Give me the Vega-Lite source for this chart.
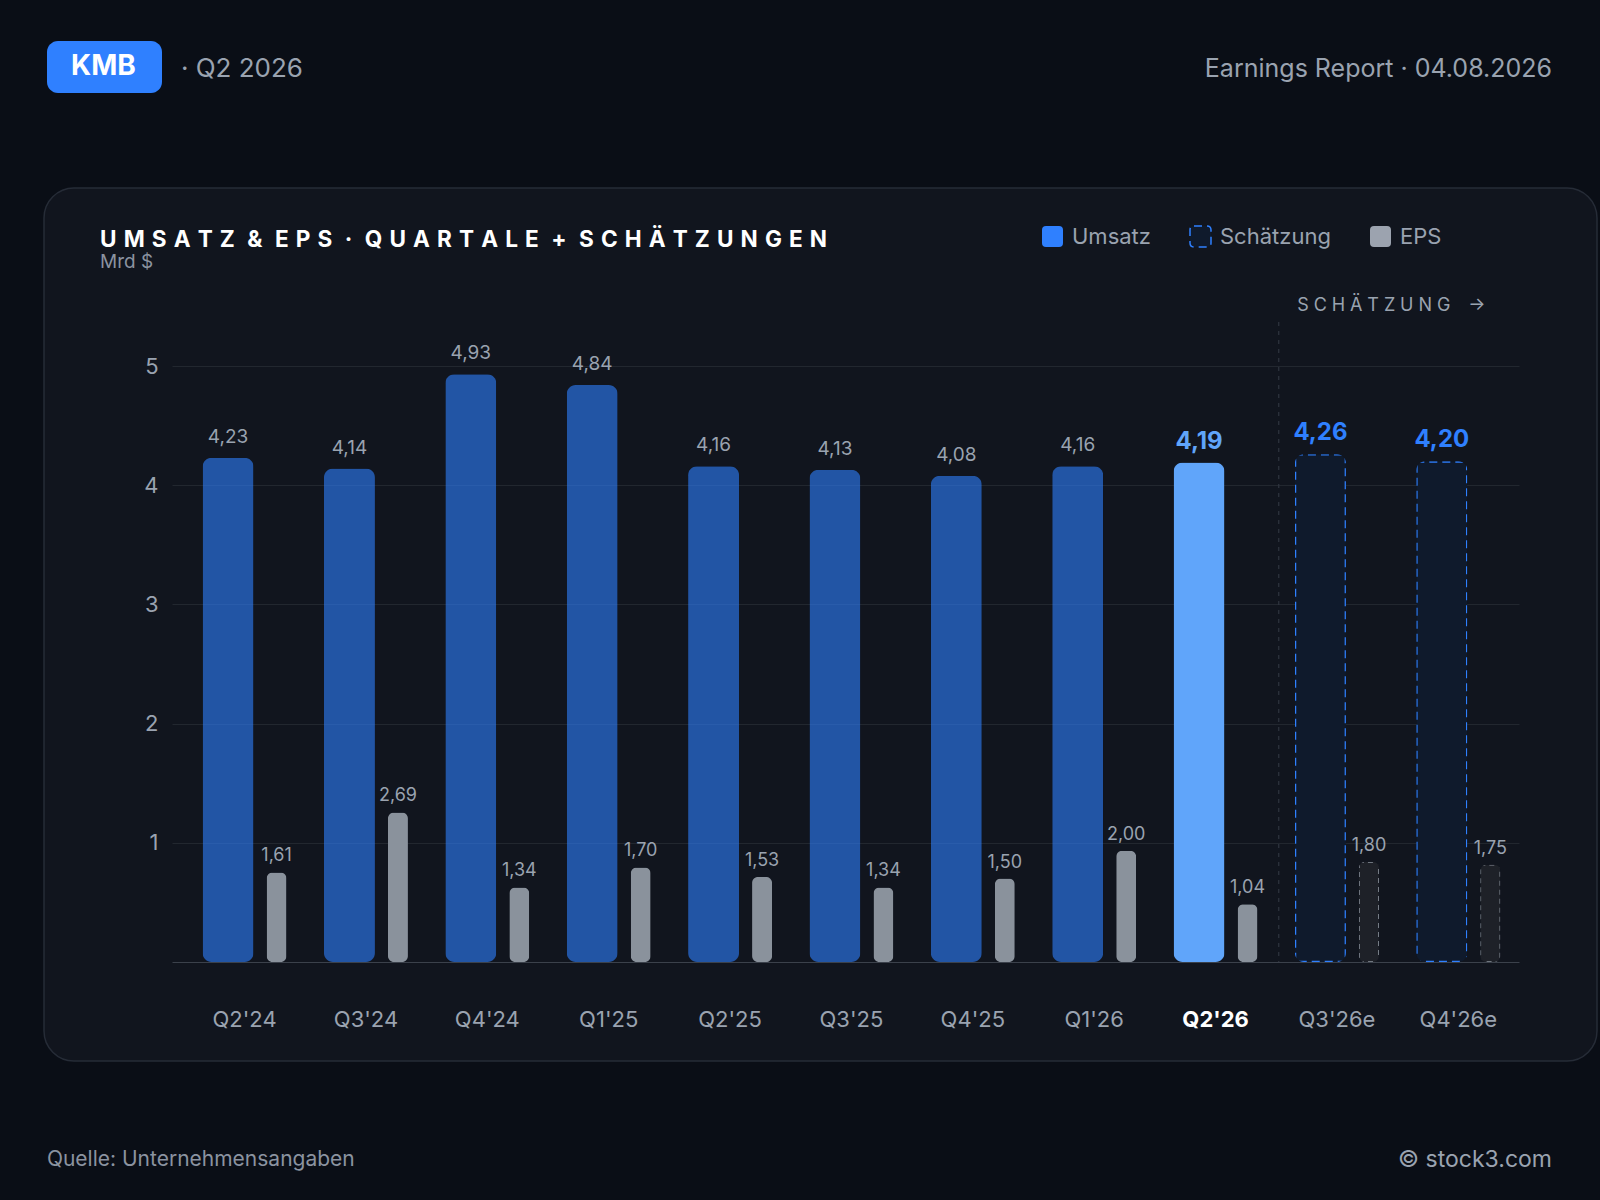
{
  "$schema": "https://vega.github.io/schema/vega-lite/v6.json",
  "autosize": {"type": "none"},
  "width": 1553,
  "height": 873,
  "padding": {"left": 44, "top": 188, "right": 3, "bottom": 139},
  "background": "#0a0e16",
  "title": {
    "text": "U\u2009\u2009M\u2009\u2009S\u2009\u2009A\u2009\u2009T\u2009\u2009Z\u2009 \u2009&\u2009 \u2009E\u2009\u2009P\u2009\u2009S\u2009 \u2009·\u2009 \u2009Q\u2009\u2009U\u2009\u2009A\u2009\u2009R\u2009\u2009T\u2009\u2009A\u2009\u2009L\u2009\u2009E\u2009 \u2009+\u2009 \u2009S\u2009\u2009C\u2009\u2009H\u2009\u2009Ä\u2009\u2009T\u2009\u2009Z\u2009\u2009U\u2009\u2009N\u2009\u2009G\u2009\u2009E\u2009\u2009N",
    "subtitle": "Mrd $",
    "anchor": "start",
    "frame": "group",
    "orient": "top",
    "offset": -231,
    "dx": 56,
    "font": "Inter",
    "fontSize": 22.6,
    "fontWeight": "bold",
    "color": "#ffffff",
    "subtitleFont": "Inter",
    "subtitleFontSize": 19,
    "subtitleColor": "#8b93a0",
    "subtitlePadding": 1
  },
  "datasets": {
    "quartale": [
      {"quartal": "Q2'24", "umsatz": 4.23, "eps": 1.61, "art": "Ist"},
      {"quartal": "Q3'24", "umsatz": 4.14, "eps": 2.69, "art": "Ist"},
      {"quartal": "Q4'24", "umsatz": 4.93, "eps": 1.34, "art": "Ist"},
      {"quartal": "Q1'25", "umsatz": 4.84, "eps": 1.70, "art": "Ist"},
      {"quartal": "Q2'25", "umsatz": 4.16, "eps": 1.53, "art": "Ist"},
      {"quartal": "Q3'25", "umsatz": 4.13, "eps": 1.34, "art": "Ist"},
      {"quartal": "Q4'25", "umsatz": 4.08, "eps": 1.50, "art": "Ist"},
      {"quartal": "Q1'26", "umsatz": 4.16, "eps": 2.00, "art": "Ist"},
      {"quartal": "Q2'26", "umsatz": 4.19, "eps": 1.04, "art": "Ist"},
      {"quartal": "Q3'26e", "umsatz": 4.26, "eps": 1.80, "art": "Schätzung"},
      {"quartal": "Q4'26e", "umsatz": 4.20, "eps": 1.75, "art": "Schätzung"}
    ]
  },
  "data": {"name": "quartale"},
  "resolve": {"scale": {"y": "independent"}},
  "layer": [
    {
      "layer": [
        {
          "mark": {"type": "bar", "width": 51, "xOffset": -16.5, "cornerRadius": 9, "strokeWidth": 2.6},
          "encoding": {
            "x": {
              "field": "quartal", "type": "nominal", "sort": null,
              "scale": {
                "domain": ["Q2'24", "Q3'24", "Q4'24", "Q1'25", "Q2'25", "Q3'25", "Q4'25", "Q1'26", "Q2'26", "Q3'26e", "Q4'26e"],
                "range": [128, 1475], "paddingInner": 0, "paddingOuter": 0.049, "align": 1
              },
              "axis": {
                "orient": "bottom", "offset": -99, "title": null, "grid": false,
                "domain": true, "domainColor": "#3b414b", "domainWidth": 1.2,
                "ticks": false, "labelAngle": 0, "labelPadding": 47,
                "labelFont": "Inter", "labelFontSize": 22,
                "labelColor": {"condition": {"test": "datum.value == \"Q2'26\"", "value": "#ffffff"}, "value": "#9aa3b0"},
                "labelFontWeight": {"condition": {"test": "datum.value == \"Q2'26\"", "value": "bold"}, "value": "normal"}
              }
            },
            "y": {
              "field": "umsatz", "type": "quantitative",
              "scale": {"domain": [0, 5], "range": [774, 178], "nice": false, "zero": true},
              "axis": {
                "values": [1, 2, 3, 4, 5], "format": "d", "offset": -128, "title": null,
                "domain": false, "ticks": false, "labelPadding": 14,
                "labelFont": "Inter", "labelFontSize": 22, "labelColor": "#9aa3b0",
                "grid": true, "gridColor": "#22272f", "gridWidth": 1
              }
            },
            "fill": {
              "condition": {"test": "datum.quartal == \"Q2'26\"", "value": "#60a5fa"},
              "field": "art", "type": "nominal",
              "scale": {"domain": ["Ist", "Schätzung", "EPS"], "range": ["#2f80ff", "#0f1a2c", "#9ca3af"]},
              "legend": {
                "orient": "none", "legendX": 997, "legendY": 37, "direction": "horizontal", "title": null,
                "symbolType": "M-0.62,-1H0.62Q1,-1 1,-0.62V0.62Q1,1 0.62,1H-0.62Q-1,1 -1,0.62V-0.62Q-1,-1 -0.62,-1Z",
                "symbolSize": 441, "symbolStrokeWidth": 1.5, "labelOffset": 8, "columnPadding": 36,
                "labelFont": "Inter", "labelFontSize": 22, "labelColor": "#9aa3b0",
                "labelExpr": "datum.value == 'Ist' ? 'Umsatz' : datum.label"
              }
            },
            "fillOpacity": {
              "condition": {"test": "datum.art == 'Schätzung' || datum.quartal == \"Q2'26\"", "value": 1},
              "value": 0.6
            },
            "stroke": {
              "field": "art", "type": "nominal",
              "scale": {"domain": ["Ist", "Schätzung", "EPS"], "range": ["transparent", "#2f80ff", "transparent"]},
              "legend": {
                "orient": "none", "legendX": 997, "legendY": 37, "direction": "horizontal", "title": null,
                "symbolType": "M-0.62,-1H0.62Q1,-1 1,-0.62V0.62Q1,1 0.62,1H-0.62Q-1,1 -1,0.62V-0.62Q-1,-1 -0.62,-1Z",
                "symbolSize": 441, "symbolStrokeWidth": 1.5, "labelOffset": 8, "columnPadding": 36,
                "labelFont": "Inter", "labelFontSize": 22, "labelColor": "#9aa3b0",
                "labelExpr": "datum.value == 'Ist' ? 'Umsatz' : datum.label"
              }
            },
            "strokeDash": {
              "field": "art", "type": "nominal",
              "scale": {"domain": ["Ist", "Schätzung", "EPS"], "range": [[1, 0], [8, 5], [1, 0]]},
              "legend": {
                "orient": "none", "legendX": 997, "legendY": 37, "direction": "horizontal", "title": null,
                "symbolType": "M-0.62,-1H0.62Q1,-1 1,-0.62V0.62Q1,1 0.62,1H-0.62Q-1,1 -1,0.62V-0.62Q-1,-1 -0.62,-1Z",
                "symbolSize": 441, "symbolStrokeWidth": 1.5, "labelOffset": 8, "columnPadding": 36,
                "labelFont": "Inter", "labelFontSize": 22, "labelColor": "#9aa3b0",
                "labelExpr": "datum.value == 'Ist' ? 'Umsatz' : datum.label"
              }
            }
          }
        },
        {
          "transform": [{"filter": "datum.art == 'Ist' && datum.quartal != \"Q2'26\""}],
          "mark": {"type": "text", "dx": -16.5, "dy": -15, "baseline": "alphabetic", "font": "Inter", "fontSize": 19, "color": "#9aa3b0"},
          "encoding": {
            "x": {"field": "quartal", "type": "nominal"},
            "y": {"field": "umsatz", "type": "quantitative"},
            "text": {"field": "umsatz", "type": "quantitative", "format": ".2f"}
          }
        },
        {
          "transform": [{"filter": "datum.art == 'Schätzung' || datum.quartal == \"Q2'26\""}],
          "mark": {"type": "text", "dx": -16.5, "dy": -14, "baseline": "alphabetic", "font": "Inter", "fontSize": 24, "fontWeight": "bold"},
          "encoding": {
            "x": {"field": "quartal", "type": "nominal"},
            "y": {"field": "umsatz", "type": "quantitative"},
            "text": {"field": "umsatz", "type": "quantitative", "format": ".2f"},
            "color": {"condition": {"test": "datum.art == 'Schätzung'", "value": "#2f80ff"}, "value": "#60a5fa"}
          }
        },
        {
          "transform": [{"filter": "datum.quartal == \"Q3'26e\""}],
          "mark": {"type": "rule", "color": "#2f3540", "strokeDash": [4, 5], "strokeWidth": 1.2, "xOffset": 2.5},
          "encoding": {
            "x": {"field": "quartal", "type": "nominal", "bandPosition": 0},
            "y": {"datum": 5.37},
            "y2": {"datum": 0}
          }
        },
        {
          "transform": [{"filter": "datum.quartal == \"Q3'26e\""}],
          "mark": {"type": "text", "align": "left", "baseline": "middle", "dx": 21, "font": "Inter", "fontSize": 18, "color": "#9aa3b0"},
          "encoding": {
            "x": {"field": "quartal", "type": "nominal", "bandPosition": 0},
            "y": {"datum": 5.5},
            "text": {"value": "S\u2009\u200aC\u2009\u200aH\u2009\u200aÄ\u2009\u200aT\u2009\u200aZ\u2009\u200aU\u2009\u200aN\u2009\u200aG\u2002\u2002→"}
          }
        },
        {
          "data": {"values": [{"text": "· Q2 2026", "ticker": "KMB"}]},
          "mark": {"type": "text", "align": "left", "baseline": "middle", "dx": -3, "font": "Inter", "fontSize": 26, "color": "#9aa3b0"},
          "encoding": {
            "x": {"datum": "Q2'24", "bandPosition": 0},
            "y": {"datum": 7.49},
            "text": {"field": "text"},
            "opacity": {
              "field": "ticker", "type": "nominal",
              "scale": {"range": [1, 1]},
              "legend": {
                "orient": "none", "legendX": 3, "legendY": -147, "title": null,
                "fillColor": "#2f80ff", "cornerRadius": 11, "padding": 12,
                "symbolSize": 0.01, "symbolOpacity": 0, "symbolStrokeWidth": 0.001, "labelOffset": -16,
                "labelFont": "Inter", "labelFontSize": 28, "labelFontWeight": "bold", "labelColor": "#ffffff",
                "labelExpr": "datum.label + '\u2002\u200b'"
              }
            }
          }
        },
        {
          "data": {"values": [{"text": "Earnings Report · 04.08.2026"}]},
          "mark": {"type": "text", "align": "right", "baseline": "middle", "dx": 33, "font": "Inter", "fontSize": 25, "color": "#9aa3b0"},
          "encoding": {
            "x": {"datum": "Q4'26e", "bandPosition": 1},
            "y": {"datum": 7.49},
            "text": {"field": "text"}
          }
        },
        {
          "data": {"values": [{"text": "Quelle: Unternehmensangaben"}]},
          "mark": {"type": "text", "align": "left", "baseline": "middle", "dx": -137, "font": "Inter", "fontSize": 21, "color": "#8b93a0"},
          "encoding": {
            "x": {"datum": "Q2'24", "bandPosition": 0},
            "y": {"datum": -1.66},
            "text": {"field": "text"}
          }
        },
        {
          "data": {"values": [{"text": "© stock3.com"}]},
          "mark": {"type": "text", "align": "right", "baseline": "middle", "dx": 33, "font": "Inter", "fontSize": 23, "color": "#9aa3b0"},
          "encoding": {
            "x": {"datum": "Q4'26e", "bandPosition": 1},
            "y": {"datum": -1.66},
            "text": {"field": "text"}
          }
        }
      ]
    },
    {
      "layer": [
        {
          "mark": {"type": "bar", "width": 20, "xOffset": 32, "cornerRadius": 6, "strokeWidth": 1.6},
          "encoding": {
            "x": {"field": "quartal", "type": "nominal"},
            "y": {"field": "eps", "type": "quantitative", "scale": {"domain": [0, 2], "range": [774, 662.8], "nice": false, "zero": true}, "axis": null},
            "fill": {"condition": {"test": "datum.art == 'Schätzung'", "value": "#1e2128"}, "value": "#8a929c"},
            "stroke": {"condition": {"test": "datum.art == 'Schätzung'", "value": "#8b929c"}, "value": "transparent"},
            "strokeDash": {"condition": {"test": "datum.art == 'Schätzung'", "value": [5, 4]}, "value": [1, 0]}
          }
        },
        {
          "mark": {"type": "text", "dx": 32, "dy": -11, "baseline": "alphabetic", "font": "Inter", "fontSize": 18, "color": "#9aa3b0"},
          "encoding": {
            "x": {"field": "quartal", "type": "nominal"},
            "y": {"field": "eps", "type": "quantitative"},
            "text": {"field": "eps", "type": "quantitative", "format": ".2f"}
          }
        }
      ]
    }
  ],
  "config": {
    "font": "Inter",
    "view": {"fill": "#11151e", "stroke": "#262c37", "strokeWidth": 1.5, "cornerRadius": 30},
    "locale": {"number": {"decimal": ",", "thousands": ".", "grouping": [3], "currency": ["", " $"]}}
  }
}
